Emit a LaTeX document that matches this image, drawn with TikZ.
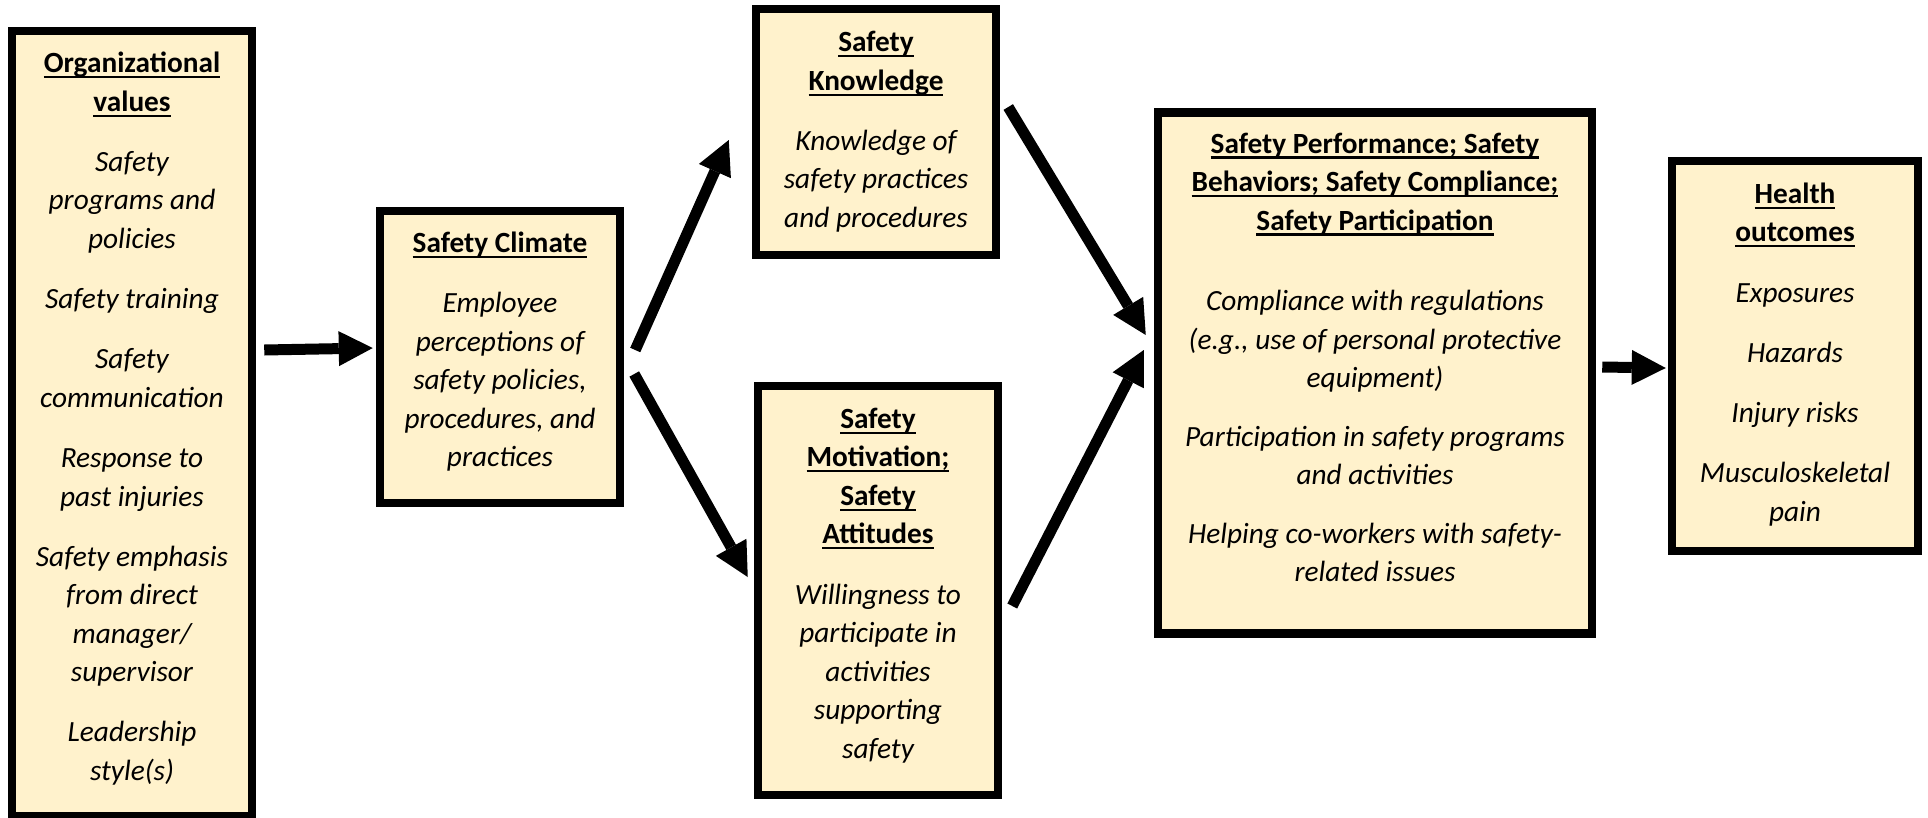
\documentclass[tikz,border=0pt]{standalone}
\usepackage{fontspec}
\setmainfont{Carlito}
\usetikzlibrary{arrows.meta}

\definecolor{boxfill}{HTML}{FFF2CC}

% bold, underlined heading line
\newcommand\ulhead[1]{\leavevmode\setbox0=\hbox{\bfseries\upshape #1}\rlap{\rule[-5.5pt]{\wd0}{2.2pt}}\box0}
% gap between paragraphs inside a box
\newcommand\gap{\\[21.7pt]}
% centred block of lines; its baseline is that of the first line
\newcommand\boxtext[2][38.5pt]{\begin{minipage}[t]{520pt}\fontsize{29.3}{#1}\selectfont\itshape\centering #2\end{minipage}}

\tikzset{
  stage/.style={draw=black, line width=8.5pt, fill=boxfill, inner sep=0pt},
  label/.style={anchor=base, inner sep=0pt},
  flow/.style={line width=11pt, -{Triangle[length=34pt 0, width=35pt 0, line width=0pt]}}
}

\begin{document}
\begin{tikzpicture}[x=1pt, y=-1pt]
\useasboundingbox (0,0) rectangle (1928,817);

% boxes
\node[stage, minimum width=240pt, minimum height=785pt] (org)    at (132,423.5) {};
\node[stage, minimum width=240pt, minimum height=292pt] (clim)   at (500,357)   {};
\node[stage, minimum width=240pt, minimum height=246pt] (know)   at (876,132)   {};
\node[stage, minimum width=240pt, minimum height=409pt] (motiv)  at (878,590.5) {};
\node[stage, minimum width=434pt, minimum height=521pt] (perf)   at (1375,373)  {};
\node[stage, minimum width=246pt, minimum height=390pt] (health) at (1795,356)  {};

% box contents
\node[label] (t-org) at (132,72.7) {\boxtext{%
  \ulhead{Organizational}\\ \ulhead{values}\gap
  Safety\\ programs and\\ policies\gap
  Safety training\gap
  Safety\\ communication\gap
  Response to\\ past injuries\gap
  Safety emphasis\\ from direct\\ manager/\\ supervisor\gap
  Leadership\\ style(s)}};

\node[label] (t-clim) at (500,252.7) {\boxtext{%
  \ulhead{Safety Climate}\gap
  Employee\\ perceptions of\\ safety policies,\\ procedures, and\\ practices}};

\node[label] (t-know) at (876,51.7) {\boxtext{%
  \ulhead{Safety}\\ \ulhead{Knowledge}\gap
  Knowledge of\\ safety practices\\ and procedures}};

\node[label] (t-motiv) at (878,428.3) {\boxtext{%
  \ulhead{Safety}\\ \ulhead{Motivation;}\\ \ulhead{Safety}\\ \ulhead{Attitudes}\gap
  Willingness to\\ participate in\\ activities\\ supporting\\ safety}};

\node[label] (t-perf) at (1375,153) {\boxtext[38.5pt]{%
  \ulhead{Safety Performance; Safety}\\ \ulhead{Behaviors; Safety Compliance;}\\ \ulhead{Safety Participation}\\[42pt]
  Compliance with regulations\\ (e.g., use of personal protective\\ equipment)\\[20pt]
  Participation in safety programs\\ and activities\\[20pt]
  Helping co-workers with safety-\\ related issues}};

\node[label] (t-health) at (1795,203.3) {\boxtext{%
  \ulhead{Health}\\ \ulhead{outcomes}\gap
  Exposures\gap Hazards\gap Injury risks\gap
  Musculoskeletal\\ pain}};

% connectors
\draw[flow] ([xshift=8pt, yshift=73.5pt]org.east)     -- ([xshift=-3pt, yshift=9pt]clim.west);
\draw[flow] ([xshift=11pt, yshift=7pt]clim.east)      -- ([xshift=-23pt, yshift=-8pt]know.west);
\draw[flow] ([xshift=10pt, yshift=-17pt]clim.east)    -- ([xshift=-6pt, yshift=13.5pt]motiv.west);
\draw[flow] ([xshift=8pt, yshift=25pt]know.east)      -- ([xshift=-8pt, yshift=38pt]perf.west);
\draw[flow] ([xshift=10pt, yshift=-15.5pt]motiv.east) -- ([xshift=-10pt, yshift=23pt]perf.west);
\draw[flow] ([xshift=6pt, yshift=6pt]perf.east)       -- ([xshift=-2pt, yshift=-12pt]health.west);
\end{tikzpicture}
\end{document}
